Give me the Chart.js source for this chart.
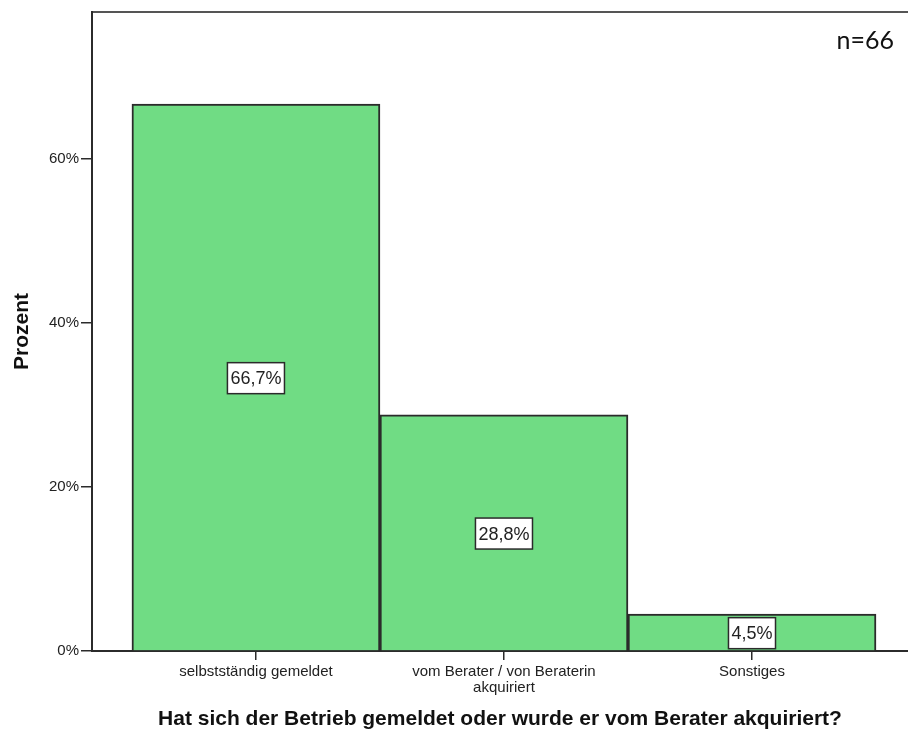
<!DOCTYPE html>
<html>
<head>
<meta charset="utf-8">
<script src="https://cdn.jsdelivr.net/npm/chart.js@4"></script>
<style>
  html, body { margin: 0; padding: 0; background: #fff; }
  #wrap { width: 908px; height: 736px; position: relative; }
</style>
</head>
<body>
<div id="wrap"><canvas id="barChart"></canvas></div>
<script>
// Data
const categories = ['selbstständig gemeldet', ['vom Berater / von Beraterin', 'akquiriert'], 'Sonstiges'];
const percentValues = [66.7, 28.8, 4.5];
const valueLabels = ['66,7%', '28,8%', '4,5%'];
const yTicks = [0, 20, 40, 60];
const sampleNote = 'n=66';

const barGreen = '#70dc84';
const lineDark = '#2b2b2b';

// white boxes with the percentage in the middle of each bar
const valueBoxes = {
    id: 'valueBoxes',
    afterDatasetsDraw(chart) {
        const ctx = chart.ctx;
        const meta = chart.getDatasetMeta(0);
        ctx.save();
        ctx.font = '18px "Liberation Sans", Arial, sans-serif';
        ctx.textAlign = 'center';
        ctx.textBaseline = 'middle';
        meta.data.forEach((bar, i) => {
            const cy = (bar.y + bar.base) / 2 + 1;
            const w = ctx.measureText(valueLabels[i]).width + 6;
            const h = 31;
            ctx.fillStyle = '#ffffff';
            ctx.fillRect(bar.x - w / 2, cy - h / 2, w, h);
            ctx.strokeStyle = lineDark;
            ctx.lineWidth = 1.5;
            ctx.strokeRect(bar.x - w / 2, cy - h / 2, w, h);
            ctx.fillStyle = '#222';
            ctx.fillText(valueLabels[i], bar.x, cy + 1);
        });
        ctx.restore();
    }
};

const sampleSize = {
    id: 'sampleSize',
    afterDraw(chart) {
        const ctx = chart.ctx;
        ctx.save();
        ctx.font = '25px Lato, "Open Sans", sans-serif';
        ctx.fillStyle = '#111';
        ctx.textAlign = 'right';
        ctx.textBaseline = 'middle';
        ctx.fillText(sampleNote, chart.chartArea.right - 14, 41);
        ctx.restore();
    }
};

document.addEventListener('DOMContentLoaded', function() {
    const ctx = document.getElementById('barChart').getContext('2d');
    new Chart(ctx, {
        type: 'bar',
        data: {
            datasets: [{
                data: percentValues.map((v, i) => ({ x: i, y: v })),
                backgroundColor: barGreen,
                borderColor: lineDark,
                borderWidth: 2,
                barPercentage: 1,
                categoryPercentage: 1
            }]
        },
        options: {
            responsive: true,
            maintainAspectRatio: false,
            animation: false,
            layout: { padding: 0 },
            plugins: {
                legend: { display: false },
                tooltip: { enabled: false }
            },
            scales: {
                x: {
                    type: 'linear',
                    offset: false,
                    min: -0.661,
                    max: 2.629,
                    afterBuildTicks: s => { s.ticks = categories.map((c, i) => ({ value: i })); },
                    afterFit: s => { s.height = 85; },
                    grid: {
                        offset: false,
                        drawOnChartArea: false,
                        drawTicks: true,
                        tickLength: 9,
                        color: lineDark,
                        lineWidth: 1.5
                    },
                    border: { display: true, color: lineDark, width: 2 },
                    ticks: {
                        autoSkip: false,
                        maxRotation: 0,
                        padding: 4,
                        color: '#222',
                        font: { family: '"Liberation Sans", Arial, sans-serif', size: 15, lineHeight: 1.05 },
                        callback: v => categories[v]
                    },
                    title: {
                        display: true,
                        text: 'Hat sich der Betrieb gemeldet oder wurde er vom Berater akquiriert?',
                        color: '#111',
                        font: { family: '"Liberation Sans", Arial, sans-serif', size: 21, weight: 'bold' },
                        padding: { top: 12 }
                    }
                },
                xTop: {
                    type: 'linear',
                    position: 'top',
                    min: 0,
                    max: 1,
                    afterFit: s => { s.height = 12; },
                    grid: { display: false },
                    ticks: { display: false },
                    border: { display: true, color: '#555', width: 2 }
                },
                y: {
                    min: 0,
                    max: 77.93,
                    afterBuildTicks: s => { s.ticks = yTicks.map(v => ({ value: v })); },
                    afterFit: s => { s.width = 92; },
                    grid: {
                        drawOnChartArea: false,
                        drawTicks: true,
                        tickLength: 11,
                        color: lineDark,
                        lineWidth: 1.5
                    },
                    border: { display: true, color: lineDark, width: 2 },
                    ticks: {
                        padding: 2,
                        color: '#222',
                        font: { family: '"Liberation Sans", Arial, sans-serif', size: 15 },
                        callback: v => v + '%'
                    },
                    title: {
                        display: true,
                        text: 'Prozent',
                        color: '#111',
                        font: { family: '"Liberation Sans", Arial, sans-serif', size: 21, weight: 'bold' },
                        padding: { top: 10 }
                    }
                }
            }
        },
        plugins: [valueBoxes, sampleSize]
    });
});
</script>
</body>
</html>
